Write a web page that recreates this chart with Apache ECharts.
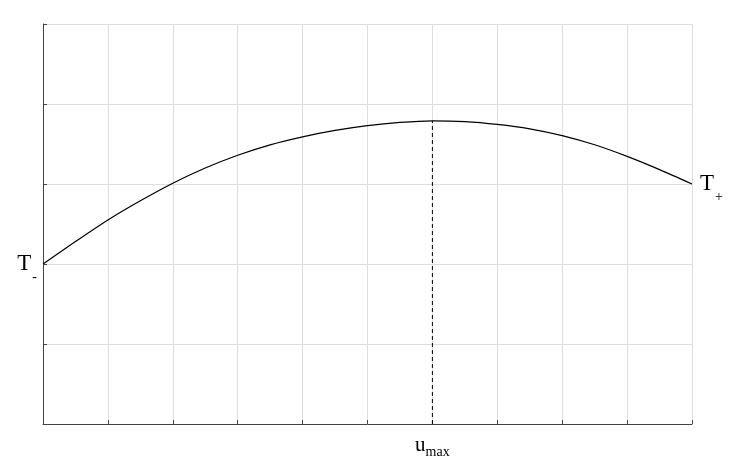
<!DOCTYPE html>
<html>
<head>
<meta charset="utf-8">
<script src="https://cdn.jsdelivr.net/npm/echarts@6/dist/echarts.min.js"></script>
<style>html,body{margin:0;padding:0;background:#fff}#c{width:751px;height:474px}</style>
</head>
<body>
<div id="c"></div>
<script>
// Data
const xValues = [0, 0.5, 1, 1.5, 2, 2.5, 3, 3.5, 4, 4.5, 5, 5.5, 6, 6.5, 7, 7.5, 8, 8.5, 9, 9.5, 10];
const curveValues = [2.0, 2.28, 2.55, 2.79, 3.01, 3.20, 3.36, 3.49, 3.59, 3.67, 3.73, 3.77, 3.79,
                     3.78, 3.745, 3.69, 3.605, 3.49, 3.345, 3.18, 3.0];
const uMaxX = 6;
const uMaxY = 3.79;
const xMin = 0, xMax = 10, yMin = 0, yMax = 5;

const serif = '"Liberation Serif", "DejaVu Serif", serif';

const curveData = xValues.map((x, i) => {
  const item = { value: [x, curveValues[i]] };
  if (i === 0) {
    item.label = { show: true, position: 'left', distance: 6, formatter: '{t|T}{s|-}' };
  } else if (i === xValues.length - 1) {
    item.label = { show: true, position: 'right', distance: 8, formatter: '{t|T}{s|+}' };
  }
  return item;
});

const rich = {
  t: { fontFamily: serif, fontSize: 23, color: '#000', lineHeight: 24 },
  s: { fontFamily: serif, fontSize: 14, color: '#000', padding: [26, 0, 0, 1] }
};

const chart = echarts.init(document.getElementById('c'));
chart.setOption({
  animation: false,
  backgroundColor: '#fff',
  grid: { left: 43, right: 59, top: 24, bottom: 50 },
  xAxis: {
    type: 'value', min: xMin, max: xMax, interval: 1,
    axisLine: { show: true, lineStyle: { color: '#444', width: 1 } },
    axisTick: { show: true, inside: true, length: 4, lineStyle: { color: '#444' } },
    splitLine: { show: true, lineStyle: { color: '#dedede', width: 1 } },
    axisLabel: {
      show: true, margin: 7,
      formatter: v => v === uMaxX ? '{u|u}{m|max}' : '',
      rich: {
        u: { fontFamily: serif, fontSize: 21, color: '#000' },
        m: { fontFamily: serif, fontSize: 14, color: '#000', padding: [14, 0, 0, 0] }
      }
    }
  },
  yAxis: {
    type: 'value', min: yMin, max: yMax, interval: 1,
    axisLine: { show: true, lineStyle: { color: '#444', width: 1 } },
    axisTick: { show: true, inside: true, length: 4, lineStyle: { color: '#444' } },
    splitLine: { show: true, lineStyle: { color: '#dedede', width: 1 } },
    axisLabel: { show: false }
  },
  series: [
    {
      type: 'line', data: curveData, smooth: 0.3,
      symbol: 'circle', symbolSize: 0, showSymbol: true, showAllSymbol: true,
      itemStyle: { color: '#000' },
      lineStyle: { color: '#000', width: 1.2 },
      label: { rich: rich },
      z: 3
    },
    {
      type: 'line', data: [[uMaxX, yMin], [uMaxX, uMaxY]], symbol: 'none',
      lineStyle: { color: '#000', width: 1, type: [4, 3] },
      z: 2
    }
  ]
});
</script>
</body>
</html>
